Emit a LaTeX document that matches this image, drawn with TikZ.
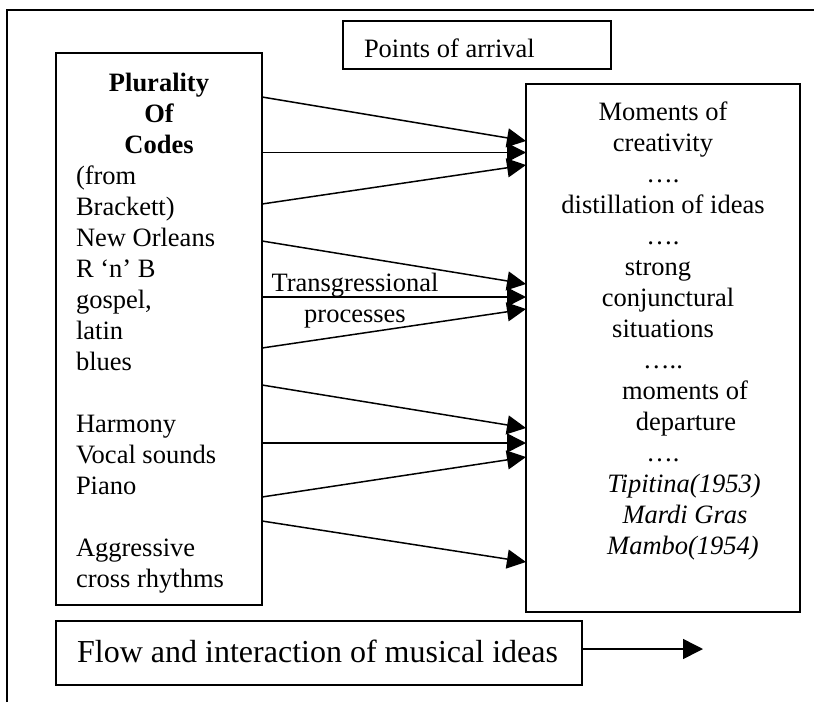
\documentclass[tikz,border=0pt]{standalone}
\usepackage{fontspec}
\setmainfont{Liberation Serif}
\usetikzlibrary{arrows.meta,calc}
\begin{document}
\begin{tikzpicture}[x=1pt,y=-1pt,
  box/.style={draw, line width=2pt, inner sep=0pt, outer sep=0pt},
  flowarrow/.style={line width=1.5pt, -{Triangle[length=19pt,width=19pt]}},
  txt/.style={font=\fontsize{26.5}{31}\selectfont, inner sep=0pt, outer sep=0pt},
]
\useasboundingbox (0,0) rectangle (814,702);
% outer frame
\draw[line width=2pt] (7,702) -- (7,10) -- (814,10);

% boxes
\node[box, minimum width=268pt, minimum height=48pt] (poa) at (477,45) {};
\node[box, minimum width=206pt, minimum height=552pt] (codes) at (159,329) {};
\node[box, minimum width=274pt, minimum height=528pt] (arrival) at (663,348) {};
\node[box, minimum width=526pt, minimum height=64pt] (flow) at (319,653) {};

% texts
\node[txt, anchor=base west] (poatext) at (364,57) {Points of arrival};

\node[txt, anchor=north west, align=left] (codestext) at (76,73) {%
\makebox[166pt][c]{\bfseries Plurality}\\
\makebox[166pt][c]{\bfseries Of}\\
\makebox[166pt][c]{\bfseries Codes}\\
(from\\
Brackett)\\
New Orleans\\
R ‘n’ B\\
gospel,\\
latin\\
blues\\
\mbox{}\\
Harmony\\
Vocal sounds\\
Piano\\
\mbox{}\\
Aggressive\\
cross rhythms};

\node[txt, anchor=north, align=center] (arrivaltext) at (663,102) {%
Moments of\\
creativity\\
….\\
distillation of ideas\\
….\\
\hspace*{-10pt}strong\\
\hspace*{10pt}conjunctural\\
situations\\
…..\\
\hspace*{44pt}moments of\\
\hspace*{46pt}departure\\
….\\
\hspace*{42pt}\textit{Tipitina(1953)}\\
\hspace*{44pt}\textit{Mardi Gras}\\
\hspace*{40pt}\textit{Mambo(1954)}};

\node[txt, anchor=north, align=center] (transtext) at (355,273) {Transgressional\\processes};

\node[inner sep=0pt, anchor=base west, font=\fontsize{32}{38}\selectfont] (flowtext) at (77,662) {Flow and interaction of musical ideas};

% connectors
\foreach \sy/\ty in {97/141,152.5/152.5,204/165,241/284,297/297,348/309,385/428,443/443,497/457,521/562}
  \draw[flowarrow] ($(codes.north east)+(0,\sy-53)$) -- ($(arrival.north west)+(0,\ty-84)$);

\coordinate (flowend) at (703,649);
\draw[line width=1.5pt, -{Triangle[length=20pt,width=20pt]}] (flow.east |- flowend) -- (flowend);
\end{tikzpicture}
\end{document}
